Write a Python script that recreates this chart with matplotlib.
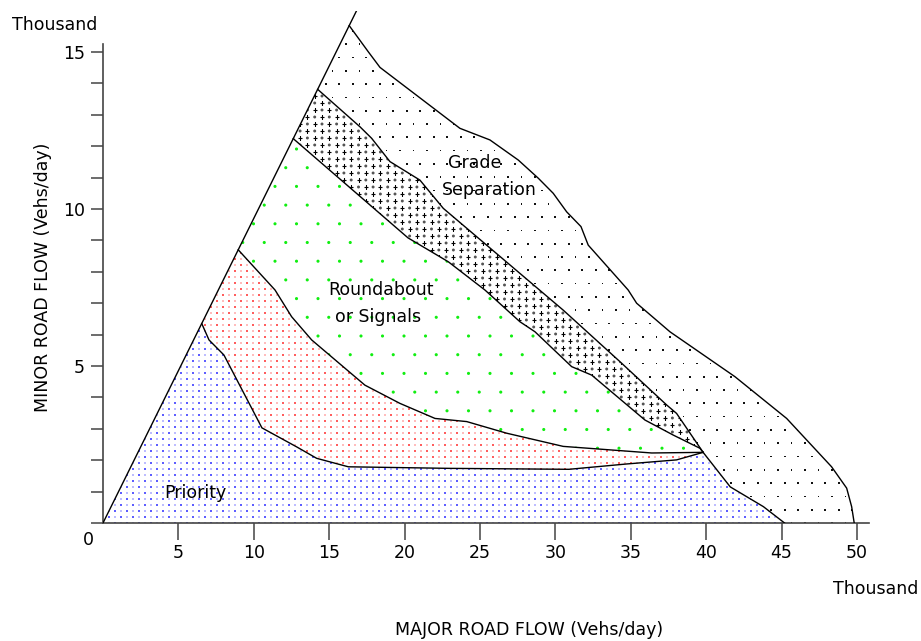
import numpy as np
import matplotlib
matplotlib.use("Agg")
import matplotlib.pyplot as plt
from matplotlib.patches import Polygon

# all flows in thousand vehicles/day: (major road, minor road)
diag_end = (16.8, 16.3)

# outer limit of grade separation
grade_x = [16.33, 17.59, 18.37, 23.67, 25.66, 27.54, 28.87, 29.86, 30.75, 31.70,
           32.18, 34.83, 35.39, 37.60, 41.91, 45.34, 48.32, 49.32, 49.65, 49.82]
grade_y = [15.84, 15.01, 14.51, 12.57, 12.20, 11.56, 10.98, 10.50, 9.91, 9.44,
           8.85, 7.42, 7.00, 6.09, 4.66, 3.33, 1.79, 1.11, 0.52, 0.0]

# upper edge of the cross-hatched band
band_up_x = [14.24, 17.04, 17.82, 19.03, 21.02, 22.57, 27.65, 30.52, 34.28, 37.38, 38.04, 39.8]
band_up_y = [13.81, 12.62, 12.25, 11.51, 10.92, 10.02, 7.95, 6.78, 5.14, 3.76, 3.49, 2.25]

# lower edge of the band / top of roundabout zone
band_lo_x = [12.62, 20.23, 22.90, 25.33, 27.65, 28.65, 31.08, 32.41, 35.94, 37.82, 39.59, 39.8]
band_lo_y = [12.24, 9.08, 8.32, 7.42, 6.41, 6.09, 4.98, 4.71, 3.28, 2.80, 2.38, 2.25]

# roundabout / red zone edge
red_up_x = [8.97, 11.41, 12.51, 13.84, 17.37, 19.69, 22.02, 24.12, 26.77, 30.52, 36.39, 39.8]
red_up_y = [8.70, 7.42, 6.57, 5.83, 4.39, 3.81, 3.33, 3.23, 2.86, 2.44, 2.23, 2.25]

# priority limit
prio_up_x = [6.55, 7.03, 8.02, 10.54, 12.86, 14.17, 16.27, 23.01, 30.90, 34.73, 38.04, 39.8]
prio_up_y = [6.35, 5.83, 5.35, 3.03, 2.42, 2.06, 1.79, 1.74, 1.71, 1.88, 2.01, 2.25]

# priority right hand edge
prio_rt_x = [39.8, 41.6, 43.8, 45.2]
prio_rt_y = [2.25, 1.15, 0.52, 0.0]

x_ticks = [5, 10, 15, 20, 25, 30, 35, 40, 45, 50]
y_ticks = [5, 10, 15]

FS = 12.5
plt.rcParams["font.family"] = "DejaVu Sans"

fig = plt.figure(figsize=(9.21, 6.41), dpi=100)
ax = fig.add_axes([103 / 921, 118 / 641, (872 - 103) / 921, (523 - 11.2) / 641])
ax.set_xlim(0, 51)
ax.set_ylim(0, 16.3)


def pts(xs, ys):
    return list(zip(xs, ys))


grade_poly = (pts(band_up_x[:1], band_up_y[:1]) + pts(grade_x, grade_y)
              + pts(prio_rt_x[::-1], prio_rt_y[::-1]) + pts(band_up_x[::-1], band_up_y[::-1]))
band_poly = pts(band_up_x, band_up_y) + pts(band_lo_x[::-1], band_lo_y[::-1])
green_poly = pts(band_lo_x, band_lo_y) + pts(red_up_x[::-1], red_up_y[::-1])
red_poly = pts(red_up_x, red_up_y) + pts(prio_up_x[::-1], prio_up_y[::-1])
blue_poly = [(0, 0)] + pts(prio_up_x, prio_up_y) + pts(prio_rt_x[1:], prio_rt_y[1:])

# pixel scale of the data axes
sx = ax.transData.transform((1, 0))[0] - ax.transData.transform((0, 0))[0]
sy = ax.transData.transform((0, 1))[1] - ax.transData.transform((0, 0))[1]


def texture(poly, dx_px, dy_px, markers, z=1):
    patch = Polygon(poly, closed=True, fill=False, edgecolor="none")
    ax.add_patch(patch)
    dx, dy = dx_px / sx, dy_px / sy
    xs = np.array([p[0] for p in poly])
    ys = np.array([p[1] for p in poly])
    rows = np.arange(0, ys.max() + dy, dy)
    for k, (marker, size, color, lw) in enumerate(markers):
        px, py = [], []
        for j, yy in enumerate(rows):
            off = (dx / 2) * (j % 2) + k * dx / len(markers)
            cols = np.arange(off, xs.max() + dx, dx)
            px.extend(cols)
            py.extend([yy] * len(cols))
        if marker == "+":
            sc = ax.scatter(px, py, s=size, marker=marker, color=color,
                            linewidths=lw, zorder=z)
        else:
            sc = ax.scatter(px, py, s=size, marker=marker, facecolors=color,
                            edgecolors="none", zorder=z)
        sc.set_clip_path(patch)


texture(blue_poly, 12, 6, [("o", 2.0, "#2a2aff", 0), ("o", 2.0, "#a8a8ff", 0)])
texture(red_poly, 12, 6, [("o", 2.0, "#ff2a2a", 0), ("o", 2.0, "#ffa8a8", 0)])
texture(green_poly, 21.5, 18.7, [("o", 5, "#11ee11", 0)])
texture(grade_poly, 13.5, 13.3, [("s", 1.6, "#111111", 0)])
texture(band_poly, 14.6, 7.0, [("+", 10, "#000000", 0.8), ("o", 4.5, "#555555", 0)])

line_kw = dict(color="black", lw=1.0, zorder=3)
ax.plot([0, diag_end[0]], [0, diag_end[1]], **line_kw)
for bx, by in [(grade_x, grade_y), (band_up_x, band_up_y), (band_lo_x, band_lo_y),
               (red_up_x, red_up_y), (prio_up_x, prio_up_y), (prio_rt_x, prio_rt_y)]:
    ax.plot(bx, by, **line_kw)

# zone labels
ax.text(24.67, 11.46, "Grade", ha="center", va="center", fontsize=FS, zorder=4)
ax.text(25.6, 10.6, "Separation", ha="center", va="center", fontsize=FS, zorder=4)
ax.text(18.44, 7.42, "Roundabout", ha="center", va="center", fontsize=FS, zorder=4)
ax.text(18.27, 6.57, "or Signals", ha="center", va="center", fontsize=FS, zorder=4)
ax.text(6.1, 0.96, "Priority", ha="center", va="center", fontsize=FS, zorder=4)

# axes styling
for s in ["top", "right"]:
    ax.spines[s].set_visible(False)
ax.spines["left"].set_bounds(0, 15.25)
ax.spines["bottom"].set_bounds(0, 50.8)
for s in ["left", "bottom"]:
    ax.spines[s].set_linewidth(1.2)
    ax.spines[s].set_color("#444444")

ax.set_xticks(x_ticks)
ax.set_xticklabels([str(v) for v in x_ticks], fontsize=FS)
ax.set_yticks(y_ticks)
ax.set_yticklabels([str(v) for v in y_ticks], fontsize=FS)
ax.set_yticks(range(0, 16), minor=True)
ax.tick_params(axis="x", direction="out", length=12, width=1.1, color="#444444", pad=3)
ax.tick_params(axis="y", which="both", direction="out", length=9, width=1.1,
               color="#444444", pad=4)

ax.text(-1.0, -0.55, "0", ha="center", va="center", fontsize=FS, clip_on=False)
fig.text(12 / 921, 1 - 25 / 641, "Thousand", ha="left", va="center", fontsize=FS)
fig.text(918 / 921, 1 - 589 / 641, "Thousand", ha="right", va="center", fontsize=FS)
fig.text(529 / 921, 1 - 630 / 641, "MAJOR ROAD FLOW (Vehs/day)", ha="center",
         va="center", fontsize=FS)
fig.text(43 / 921, 1 - 277 / 641, "MINOR ROAD FLOW (Vehs/day)", ha="center",
         va="center", rotation=90, fontsize=FS)

fig.savefig("out.png", dpi=100)
